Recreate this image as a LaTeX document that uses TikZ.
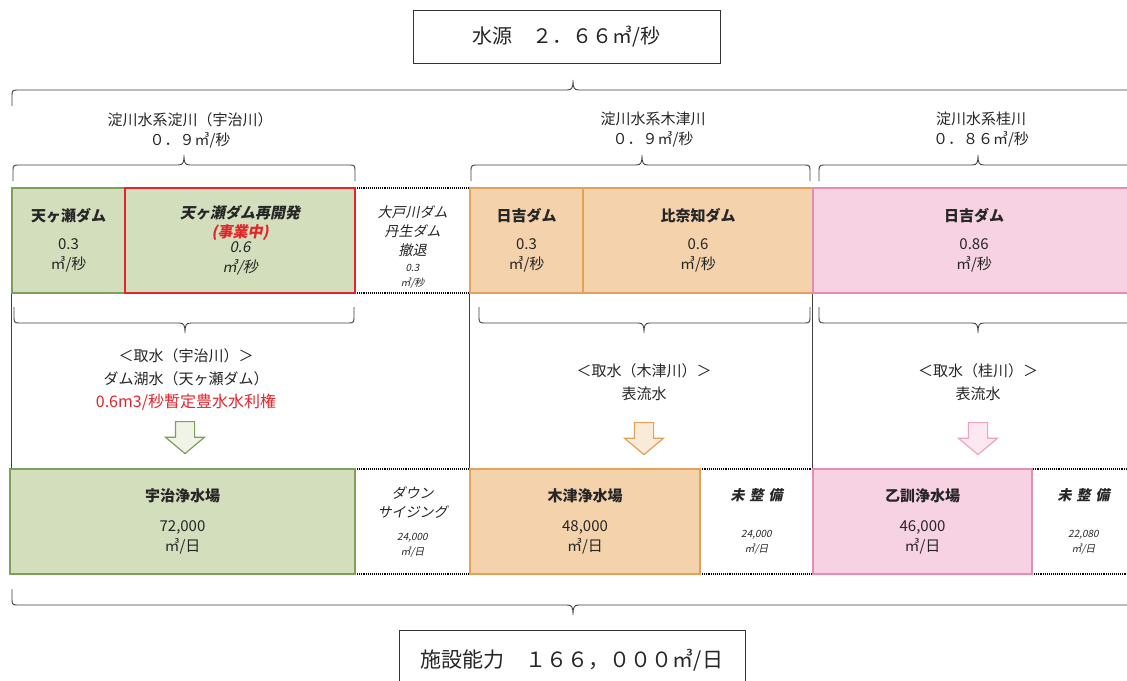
\documentclass[tikz,border=0pt]{standalone}
\usepackage{fontspec}
\setmainfont{Noto Sans CJK JP}
\newfontfamily\jpslant[FakeSlant=0.2]{Noto Sans CJK JP}
\usepackage{xcolor}
\definecolor{green1}{HTML}{D3DEBC}
\definecolor{green2}{HTML}{7F9E5C}
\definecolor{orange1}{HTML}{F4D2AB}
\definecolor{orange2}{HTML}{E3A258}
\definecolor{pink1}{HTML}{F7D2E3}
\definecolor{pink2}{HTML}{E68DB6}
\definecolor{red1}{HTML}{E3242B}
\definecolor{ink}{gray}{0.15}
\usepackage{tikz}
\usetikzlibrary{shapes.arrows,positioning}

\begin{document}
\begin{tikzpicture}[
  x=1pt, y=-1pt,
  every node/.style={inner sep=0pt, text=ink},
  cell/.style={rectangle,draw,line width=1.1pt,minimum height=105pt,
               align=center,font=\fontsize{15}{20}\selectfont},
  greencell/.style={cell,fill=green1,draw=green2},
  orangecell/.style={cell,fill=orange1,draw=orange2},
  pinkcell/.style={cell,fill=pink1,draw=pink2},
  voidcell/.style={cell,fill=white,draw=black,densely dotted,line width=1.3pt,
                   font=\jpslant\fontsize{14}{19}\selectfont},
  framebox/.style={rectangle,draw=black!80,line width=1pt,fill=white,
                   font=\fontsize{20}{24}\selectfont},
  head/.style={align=center,font=\fontsize{15}{20}\selectfont},
  intake/.style={align=center,font=\fontsize{15}{23}\selectfont},
  bline/.style={draw=black!75,line width=0.9pt},
  flow/.style={single arrow,shape border rotate=270,draw,line width=1.2pt,
               inner sep=9pt,minimum height=32pt,minimum width=38pt,
               single arrow head extend=10pt,single arrow tip angle=100,
               anchor=tail},
]
  \useasboundingbox (0,0) rectangle (1127,680);
  \clip (0,0) rectangle (1127,680);
  \fill[white] (0,0) rectangle (1127,680);

  % water source
  \node[framebox,minimum width=307pt,minimum height=53pt] (src) at (566.5,36.5)
    {水源　２．６６㎥/秒};

  % rivers
  \node[head] (uji)     at (190,130) {淀川水系淀川（宇治川）\\０．９㎥/秒};
  \node[head] (kizu)    at (653,130) {淀川水系木津川\\０．９㎥/秒};
  \node[head] (katsura) at (981,130) {淀川水系桂川\\０．８６㎥/秒};

  % braces
  \foreach \xa/\xm/\xb/\yy/\dd in {12/573/1134/90/1, 13/184/355/165/1,
      471/642/810/165/1, 819/978/1137/165/1, 14/185/354/323/-1,
      479/644/810/323/-1, 819/978/1137/323/-1, 12/573/1134/605/-1}
    \draw[bline] (\xa,\yy+16*\dd) -- (\xa,\yy+5*\dd)
      .. controls (\xa,\yy+1*\dd) and (\xa+1,\yy) .. (\xa+5,\yy) -- (\xm-6,\yy)
      .. controls (\xm-1,\yy) and (\xm,\yy-2*\dd) .. (\xm,\yy-10*\dd)
      .. controls (\xm,\yy-2*\dd) and (\xm+1,\yy) .. (\xm+6,\yy) -- (\xb-5,\yy)
      .. controls (\xb-1,\yy) and (\xb,\yy+1*\dd) .. (\xb,\yy+5*\dd)
      -- (\xb,\yy+16*\dd);

  % dams
  \node[voidcell,minimum width=115pt] (ohdo) at (412.5,240.5) {};
  \node[align=center,font=\jpslant\fontsize{14}{19}\selectfont] (ohdotext)
    at ([yshift=-6pt]ohdo.center)
    {大戸川ダム\\丹生ダム\\撤退\\[-3pt]{\fontsize{10}{13}\selectfont 0.3}\\[-4pt]{\fontsize{10}{13}\selectfont ㎥/秒}};
  \node[greencell,minimum width=113pt] (amagase) at (68.5,240.5)
    {\bfseries 天ヶ瀬ダム\\[8pt]0.3\\㎥/秒};
  \node[greencell,draw=red1,line width=2pt,minimum width=230pt,
        font=\jpslant\fontsize{15}{20}\selectfont] (redev) at (240,240.5)
    {\bfseries 天ヶ瀬ダム再開発\\[-1pt]{\bfseries\color{red1}(事業中)}\\[-5pt]0.6\\㎥/秒};
  \node[orangecell,minimum width=113pt] (hiyoshi) at (526.5,240.5)
    {\bfseries 日吉ダム\\[8pt]0.3\\㎥/秒};
  \node[orangecell,minimum width=230pt] (hinachi) at (698,240.5)
    {\bfseries 比奈知ダム\\[8pt]0.6\\㎥/秒};
  \node[pinkcell,minimum width=322pt] (hiyoshi2) at (974,240.5)
    {\bfseries 日吉ダム\\[8pt]0.86\\㎥/秒};

  % intakes
  \node[intake] (take1) at (186,380)
    {＜取水（宇治川）＞\\ダム湖水（天ヶ瀬ダム）\\{\fontsize{16}{23}\selectfont\color{red1}0.6m3/秒暫定豊水水利権}};
  \node[intake] (take2) at (644,382.5) {＜取水（木津川）＞\\表流水};
  \node[intake] (take3) at (978,382.5) {＜取水（桂川）＞\\表流水};

  \node[flow,draw=green2,fill=green1!35]  (a1) at (185,421) {};
  \node[flow,draw=orange2,fill=orange1!45] (a2) at (644,422) {};
  \node[flow,draw=pink2!80,fill=pink1!50] (a3) at (978,422) {};

  % plants
  \node[voidcell,minimum width=115pt] (down) at (412.5,521.5)
    {ダウン\\サイジング\\[4pt]{\fontsize{10}{13}\selectfont 24,000}\\[-4pt]{\fontsize{10}{13}\selectfont ㎥/日}};
  \node[voidcell,minimum width=113pt] (none1) at (756.5,521.5)
    {\bfseries 未\hspace{5pt}整\hspace{5pt}備\\[18pt]{\fontsize{10}{13}\selectfont 24,000}\\[-4pt]{\fontsize{10}{13}\selectfont ㎥/日}};
  \node[voidcell,minimum width=103pt] (none2) at (1083.5,521.5)
    {\bfseries 未\hspace{5pt}整\hspace{5pt}備\\[18pt]{\fontsize{10}{13}\selectfont 22,080}\\[-4pt]{\fontsize{10}{13}\selectfont ㎥/日}};
  \node[greencell,minimum width=345pt] (ujiplant) at (182.5,521.5)
    {\bfseries 宇治浄水場\\[10pt]72,000\\㎥/日};
  \node[orangecell,minimum width=230pt] (kizuplant) at (585,521.5)
    {\bfseries 木津浄水場\\[10pt]48,000\\㎥/日};
  \node[pinkcell,minimum width=219pt] (otokuni) at (922.5,521.5)
    {\bfseries 乙訓浄水場\\[10pt]46,000\\㎥/日};

  \draw[bline] (amagase.south west) -- (amagase.south west |- ujiplant.north);
  \draw[bline] (hiyoshi.south west) -- (kizuplant.north west);
  \draw[bline] (hiyoshi2.south west) -- (otokuni.north west);

  % capacity
  \node[framebox,minimum width=346pt,minimum height=60pt,font=\fontsize{21}{24}\selectfont]
    (cap) at (572,660) {施設能力　１６６，０００㎥/日};
\end{tikzpicture}
\end{document}
